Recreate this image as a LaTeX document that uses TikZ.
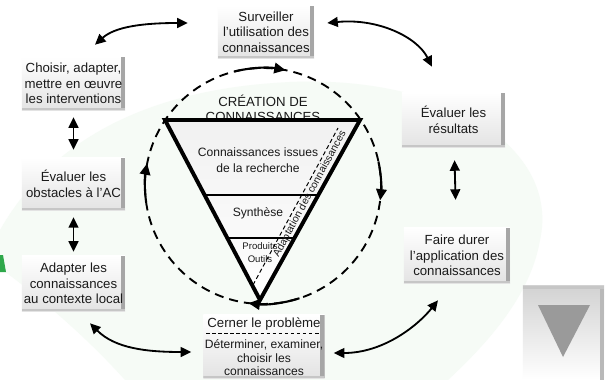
\documentclass[tikz,border=0pt]{standalone}
\usepackage{fontspec}
\setmainfont{Liberation Sans}
\usetikzlibrary{arrows.meta,positioning,calc}
\definecolor{paleGreen}{HTML}{F6FBF6}
\definecolor{logoGreen}{HTML}{2EA84A}
\definecolor{bevelGray}{HTML}{A6A6A6}
\definecolor{navGray}{HTML}{9A9A9A}
\definecolor{inkBlack}{HTML}{1A1A1A}

\begin{document}
\begin{tikzpicture}[
          x=0.025cm, y=-0.025cm,
          box/.style={rectangle, align=center, inner sep=1pt, text=inkBlack,
                      top color=white, bottom color=gray!22,
                      font=\fontsize{9.4}{11}\selectfont,
                      path picture={
                        \fill[bevelGray] ([xshift=-3pt]path picture bounding box.north east) rectangle (path picture bounding box.south east);
                        \fill[gray!45] (path picture bounding box.south west) rectangle ([yshift=1.5pt]path picture bounding box.south east);}},
          tri/.style={align=center, inner sep=0pt, text=inkBlack, font=\fontsize{8.6}{11}\selectfont},
          link/.style={{Triangle[length=7.5pt,width=7pt]}-{Triangle[length=7.5pt,width=7pt]}, line width=1.3pt},
          turn/.style={-{Triangle[length=8pt,width=7.5pt]}, line width=1.5pt},
          >=Latex
        ]
        \useasboundingbox (0,0) rectangle (611,380);
        \fill[white] (0,0) rectangle (611,380);
        \fill[paleGreen] (0,230) .. controls (40,160) and (120,90) .. (290,82)
          .. controls (450,75) and (560,150) .. (540,240)
          .. controls (530,300) and (480,350) .. (448,380) -- (125,380)
          .. controls (80,330) and (30,290) .. (0,268) -- cycle;
        \fill[logoGreen] (0,255) -- (3,255) -- (6,272) -- (0,272) -- cycle;

        \node[box, minimum width=2.4cm, minimum height=1.3cm] (surv) at (266,32) {Surveiller\\l’utilisation des\\connaissances};
        \node[box, minimum width=2.575cm, minimum height=1.325cm] (choisir) at (73.5,83.5) {Choisir, adapter,\\mettre en œuvre\\les interventions};
        \node[box, minimum width=2.575cm, minimum height=1.3cm] (obst) at (73.5,184) {Évaluer les\\obstacles à l’AC};
        \node[box, minimum width=2.575cm, minimum height=1.375cm] (adapt) at (73.5,283.5) {Adapter les\\connaissances\\au contexte local};
        \node[box, minimum width=2.575cm, minimum height=1.35cm] (result) at (453.5,120) {Évaluer les\\résultats};
        \node[box, minimum width=2.65cm, minimum height=1.375cm] (durer) at (457,255.5) {Faire durer\\l’application des\\connaissances};
        \node[box, minimum width=2.95cm, minimum height=1.575cm] (cerner) at (264,346.5)
          {Cerner le problème\\[4.5pt] {\fontsize{8.6}{9.6}\selectfont Déterminer, examiner,}\\[-1.6pt]
           {\fontsize{8.6}{9.6}\selectfont choisir les}\\[-1.6pt] {\fontsize{8.6}{9.6}\selectfont connaissances}};
        \draw[dashed, dash pattern=on 2.5pt off 1.8pt, line width=0.6pt]
          ([shift={(3,-13.5)}]cerner.west) -- ([shift={(-6,-13.5)}]cerner.east);

        \node[minimum width=2.025cm, minimum height=2.35cm, top color=gray!35, bottom color=white,
              path picture={
                \fill[gray!55] ([xshift=-3pt]path picture bounding box.north east) rectangle (path picture bounding box.south east);
                \fill[gray!45] (path picture bounding box.north west) rectangle ([yshift=-2.2pt]path picture bounding box.north east);}] (navBox) at (563.5,333) {};
        \fill[navGray] ([shift={(-25.5,-28)}]navBox.center) -- ([shift={(26.5,-28)}]navBox.center) -- ([shift={(-0.5,24)}]navBox.center) -- cycle;

        \coordinate (mid) at (263,186);
        \draw[dashed, dash pattern=on 6.4pt off 4.3pt, line width=1.35pt] (mid) circle [radius=118];
        \draw[turn] ($(mid)+(256:118)$) arc[start angle=256, end angle=281, radius=118];
        \draw[turn] ($(mid)+(-12:118)$) arc[start angle=-12, end angle=7, radius=118];
        \draw[turn] ($(mid)+(72:118)$) arc[start angle=72, end angle=97, radius=118];
        \draw[turn] ($(mid)+(172:118)$) arc[start angle=172, end angle=191, radius=118];

        \node[tri, font=\fontsize{9.4}{11}\selectfont] (creation) at (263,108.5) {CRÉATION DE\\CONNAISSANCES};
        \coordinate (tl) at (165,120);
        \coordinate (tr) at (360,120);
        \coordinate (tb) at (260,300);
        \draw[line width=2.8pt, line join=miter, top color=gray!11, bottom color=white] (tl) -- (tr) -- (tb) -- cycle;
        \draw[line width=0.8pt] ($(tl)!0.4167!(tb)$) -- ($(tr)!0.4167!(tb)$);
        \draw[line width=0.8pt] ($(tl)!0.6556!(tb)$) -- ($(tr)!0.6556!(tb)$);
        \node[tri] (issues) at (258,160) {Connaissances issues\\de la recherche};
        \node[tri] (synth) at (258,213) {Synthèse};
        \node[tri, font=\fontsize{6.8}{9.2}\selectfont] (outils) at (260,253) {Produits\\Outils};
        \draw[dashed, dash pattern=on 3pt off 2pt, line width=0.7pt] (253,285) -- (338,128);
        \node[tri, font=\fontsize{7.4}{8}\selectfont, rotate=61.5] (adaptation) at (310,194) {Adaptation des connaissances};

        \draw[link] ([shift={(21.5,-12)}]choisir.north) .. controls +(20,-18) and +(-45,0) .. ([shift={(-30,-9)}]surv.west);
        \draw[link] ([shift={(13,-9)}]surv.east) .. controls +(50,-5) and +(-15,-30) .. ([shift={(-21.5,-26)}]result.north);
        \draw[link] ([shift={(16.5,12)}]adapt.south) .. controls +(25,25) and +(-45,0) .. ([shift={(-12,5.5)}]cerner.west);
        \draw[link] ([shift={(9,6.5)}]cerner.east) .. controls +(50,0) and +(-20,25) .. ([shift={(-19,17)}]durer.south);
        \draw[link, shorten <=5pt, shorten >=5.7pt] (choisir) -- (obst);
        \draw[link, shorten <=4.9pt, shorten >=2.8pt] (obst) -- (adapt);
        \draw[link, shorten <=9.2pt, shorten >=19.8pt] (result) -- (durer);
      \end{tikzpicture}
\end{document}
